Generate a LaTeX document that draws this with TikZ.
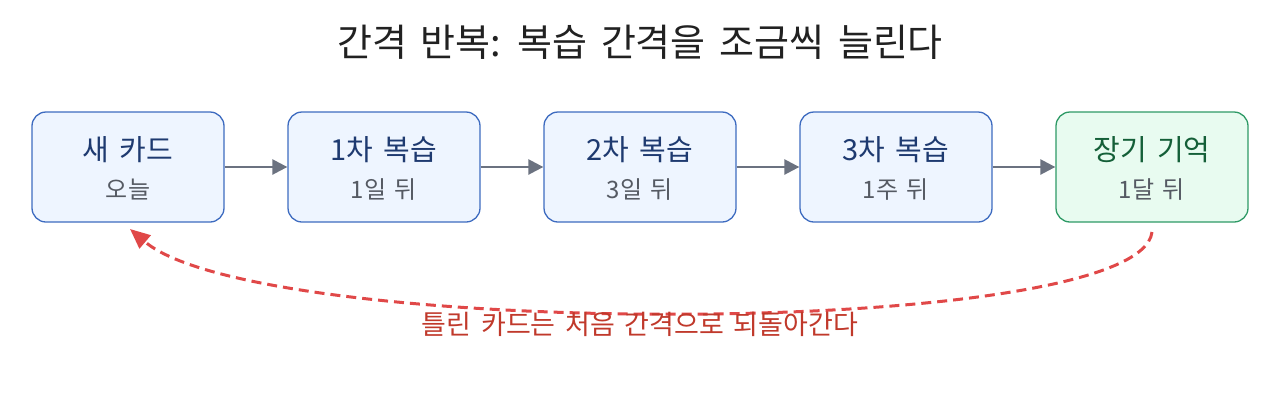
\documentclass[tikz,border=0pt]{standalone}
\usepackage{fontspec}
\setmainfont[WordSpace=1.6]{Noto Sans CJK KR}
\usetikzlibrary{arrows.meta}
\definecolor{boxfill}{HTML}{EEF5FF}
\definecolor{boxline}{HTML}{3D6BC0}
\definecolor{boxtext}{HTML}{1E3A70}
\definecolor{subtext}{HTML}{555A63}
\definecolor{gfill}{HTML}{E8FBF0}
\definecolor{gline}{HTML}{2E9A66}
\definecolor{gtext}{HTML}{145F38}
\definecolor{arrowgray}{HTML}{6B7280}
\definecolor{redline}{HTML}{E04848}
\definecolor{redtext}{HTML}{C0392B}
\begin{document}
\begin{tikzpicture}[x=1pt,y=-1pt,
  stagebox/.style={draw=boxline, fill=boxfill, line width=1.3pt, rounded corners=14pt,
    minimum width=192pt, minimum height=110pt, inner sep=0pt},
  goalbox/.style={stagebox, draw=gline, fill=gfill},
  maintxt/.style={font=\fontsize{29}{34}\selectfont, text=boxtext},
  subtxt/.style={font=\fontsize{24}{28}\selectfont, text=subtext},
  flow/.style={draw=arrowgray, line width=2.5pt, -{Triangle[length=15pt,width=15pt]}},
  back/.style={draw=redline, line width=3pt, dash pattern=on 10pt off 6pt,
    -{Triangle[length=20pt,width=17pt]}}]
\useasboundingbox (0,0) rectangle (1280,416);
\node[font=\fontsize{38}{45}\selectfont, text=black!87] (title) at (640,42) {간격 반복: 복습 간격을 조금씩 늘린다};

\node[stagebox] (b1) at (128,167) {};
\node[stagebox] (b2) at (384,167) {};
\node[stagebox] (b3) at (640,167) {};
\node[stagebox] (b4) at (896,167) {};
\node[goalbox] (b5) at (1152,167) {};

\node[maintxt] (m1) at (128,150) {새 카드};
\node[subtxt] (s1) at (128,190) {오늘};
\node[maintxt] (m2) at (384,150) {1차 복습};
\node[subtxt] (s2) at (384,190) {1일 뒤};
\node[maintxt] (m3) at (640,150) {2차 복습};
\node[subtxt] (s3) at (640,190) {3일 뒤};
\node[maintxt] (m4) at (896,150) {3차 복습};
\node[subtxt] (s4) at (896,190) {1주 뒤};
\node[maintxt, text=gtext] (m5) at (1152,150) {장기 기억};
\node[subtxt] (s5) at (1152,190) {1달 뒤};

\draw[flow] (b1.east) -- (b2.west);
\draw[flow] (b2.east) -- (b3.west);
\draw[flow] (b3.east) -- (b4.west);
\draw[flow] (b4.east) -- (b5.west);

\coordinate (st) at (1152,232);
\coordinate (en) at (130,229);
\draw[back] (st) .. controls (1140,340) and (260,340) .. (en);
\node[font=\fontsize{27}{32}\selectfont, text=redtext] (lbl) at (640,324) {틀린 카드는 처음 간격으로 되돌아간다};
\end{tikzpicture}
\end{document}
